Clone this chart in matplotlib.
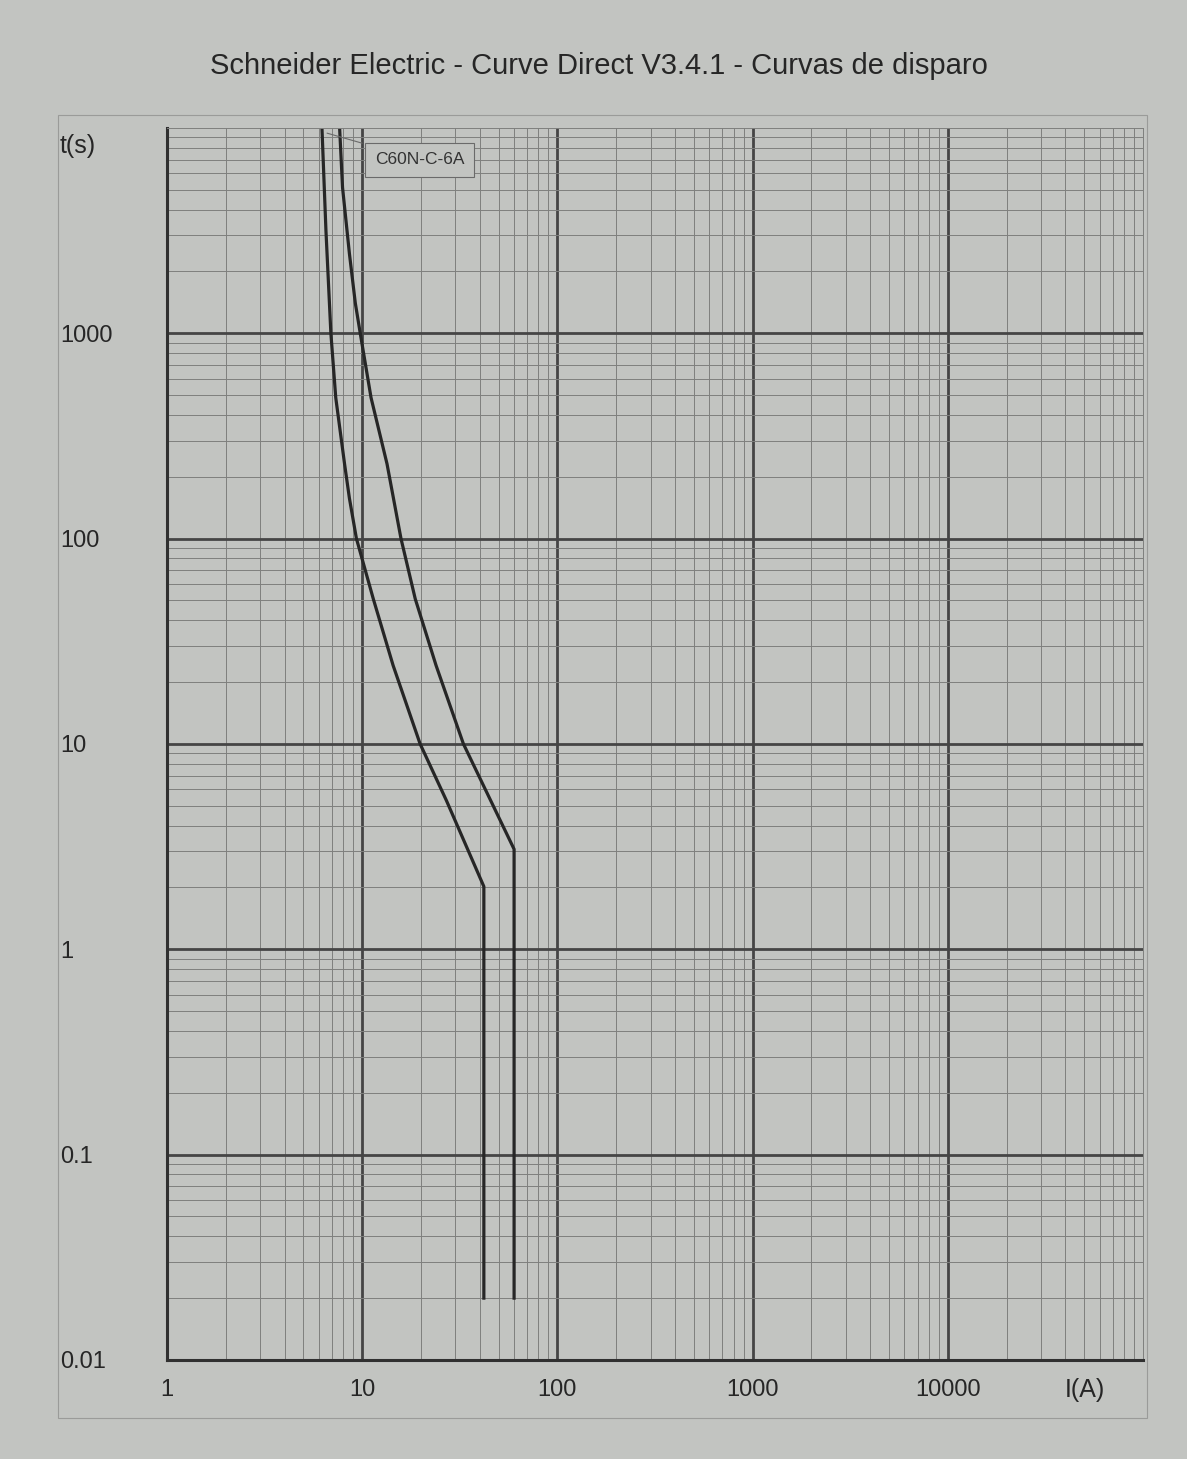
import matplotlib.pyplot as plt
from matplotlib.ticker import FixedLocator, LogLocator, NullFormatter
from matplotlib.patches import Rectangle

plt.rcParams['font.family'] = ['Liberation Sans', 'DejaVu Sans']

# Trip curve C60N-C-6A (I in A, t in s)
left_I = [6.22, 6.52, 6.91, 7.32, 8.12, 8.60, 9.34, 11.4, 14.4, 19.8, 27.0, 42.0, 42.0]
left_t = [10000, 3160, 1000, 485, 231, 157, 100, 50.8, 24.1, 10, 5.3, 2.02, 0.02]
right_I = [7.66, 7.93, 8.60, 9.22, 9.77, 11.1, 13.4, 15.8, 18.7, 23.9, 33.0, 60.0, 60.0]
right_t = [10000, 5120, 2440, 1400, 1000, 485, 231, 100, 50.8, 24.1, 10, 3.07, 0.02]

x_ticks = [1, 10, 100, 1000, 10000]
x_labels = ['1', '10', '100', '1000', '10000']
y_ticks = [0.01, 0.1, 1, 10, 100, 1000]
y_labels = ['0.01', '0.1', '1', '10', '100', '1000']

bg = '#c2c4c1'
ink = '#262626'

fig = plt.figure(figsize=(11.87, 14.59), dpi=100, facecolor=bg)
ax = fig.add_axes([0.1407, 0.0679, 0.8222, 0.8445], facecolor=bg)
ax.set_xscale('log')
ax.set_yscale('log')
ax.set_xlim(1, 100000)
ax.set_ylim(0.01, 10000)

# grid: thick decades, thin 2..9 subdivisions
ax.xaxis.set_major_locator(FixedLocator(x_ticks))
ax.yaxis.set_major_locator(FixedLocator(y_ticks))
ax.xaxis.set_minor_locator(LogLocator(base=10, subs=range(2, 10), numticks=20))
ax.yaxis.set_minor_locator(LogLocator(base=10, subs=range(2, 10), numticks=20))
ax.xaxis.set_minor_formatter(NullFormatter())
ax.yaxis.set_minor_formatter(NullFormatter())
ax.grid(which='major', color='#454545', linewidth=2.0)
ax.grid(which='minor', color='#7e7f7d', linewidth=0.7)
ax.set_axisbelow(True)

ax.set_xticks(x_ticks, x_labels)
ax.set_yticks(y_ticks, y_labels)
ax.tick_params(which='both', length=0)
ax.tick_params(axis='x', pad=14, labelsize=17, labelcolor=ink)
ax.tick_params(axis='y', pad=77, labelsize=17, labelcolor=ink)
for lbl in ax.get_yticklabels():
    lbl.set_horizontalalignment('left')

for side in ['left', 'bottom']:
    ax.spines[side].set_color('#303030')
    ax.spines[side].set_linewidth(2.2)
for side in ['top', 'right']:
    ax.spines[side].set_color('#7e7f7d')
    ax.spines[side].set_linewidth(0.7)

# curves
ax.plot(left_I, left_t, color=ink, linewidth=2.3, solid_joinstyle='round')
ax.plot(right_I, right_t, color=ink, linewidth=2.3, solid_joinstyle='round')

ax.annotate('C60N-C-6A', xy=(6.4, 9500), xytext=(11.6, 7000),
            fontsize=12.5, color='#333333', ha='left', va='center',
            bbox=dict(boxstyle='square,pad=0.55', facecolor=bg,
                      edgecolor='#6a6a6a', linewidth=0.8),
            arrowprops=dict(arrowstyle='-', color='#6a6a6a', linewidth=0.8))

ax.text(-0.1096, 0.985, 't(s)', transform=ax.transAxes, fontsize=18,
        color=ink, ha='left', va='center')
ax.text(0.94, -0.024, 'I(A)', transform=ax.transAxes, fontsize=18,
        color=ink, ha='center', va='center')

fig.text(0.505, 0.955, 'Schneider Electric - Curve Direct V3.4.1 - Curvas de disparo',
         fontsize=21, color=ink, ha='center', va='center')

# thin outer frame of the printed page
fig.patches.append(Rectangle((58 / 1187, 1 - 1418 / 1459), (1147 - 58) / 1187,
                             (1418 - 115) / 1459, transform=fig.transFigure,
                             fill=False, edgecolor='#9a9b99', linewidth=0.8))

fig.savefig('out.png', dpi=100, facecolor=bg)
